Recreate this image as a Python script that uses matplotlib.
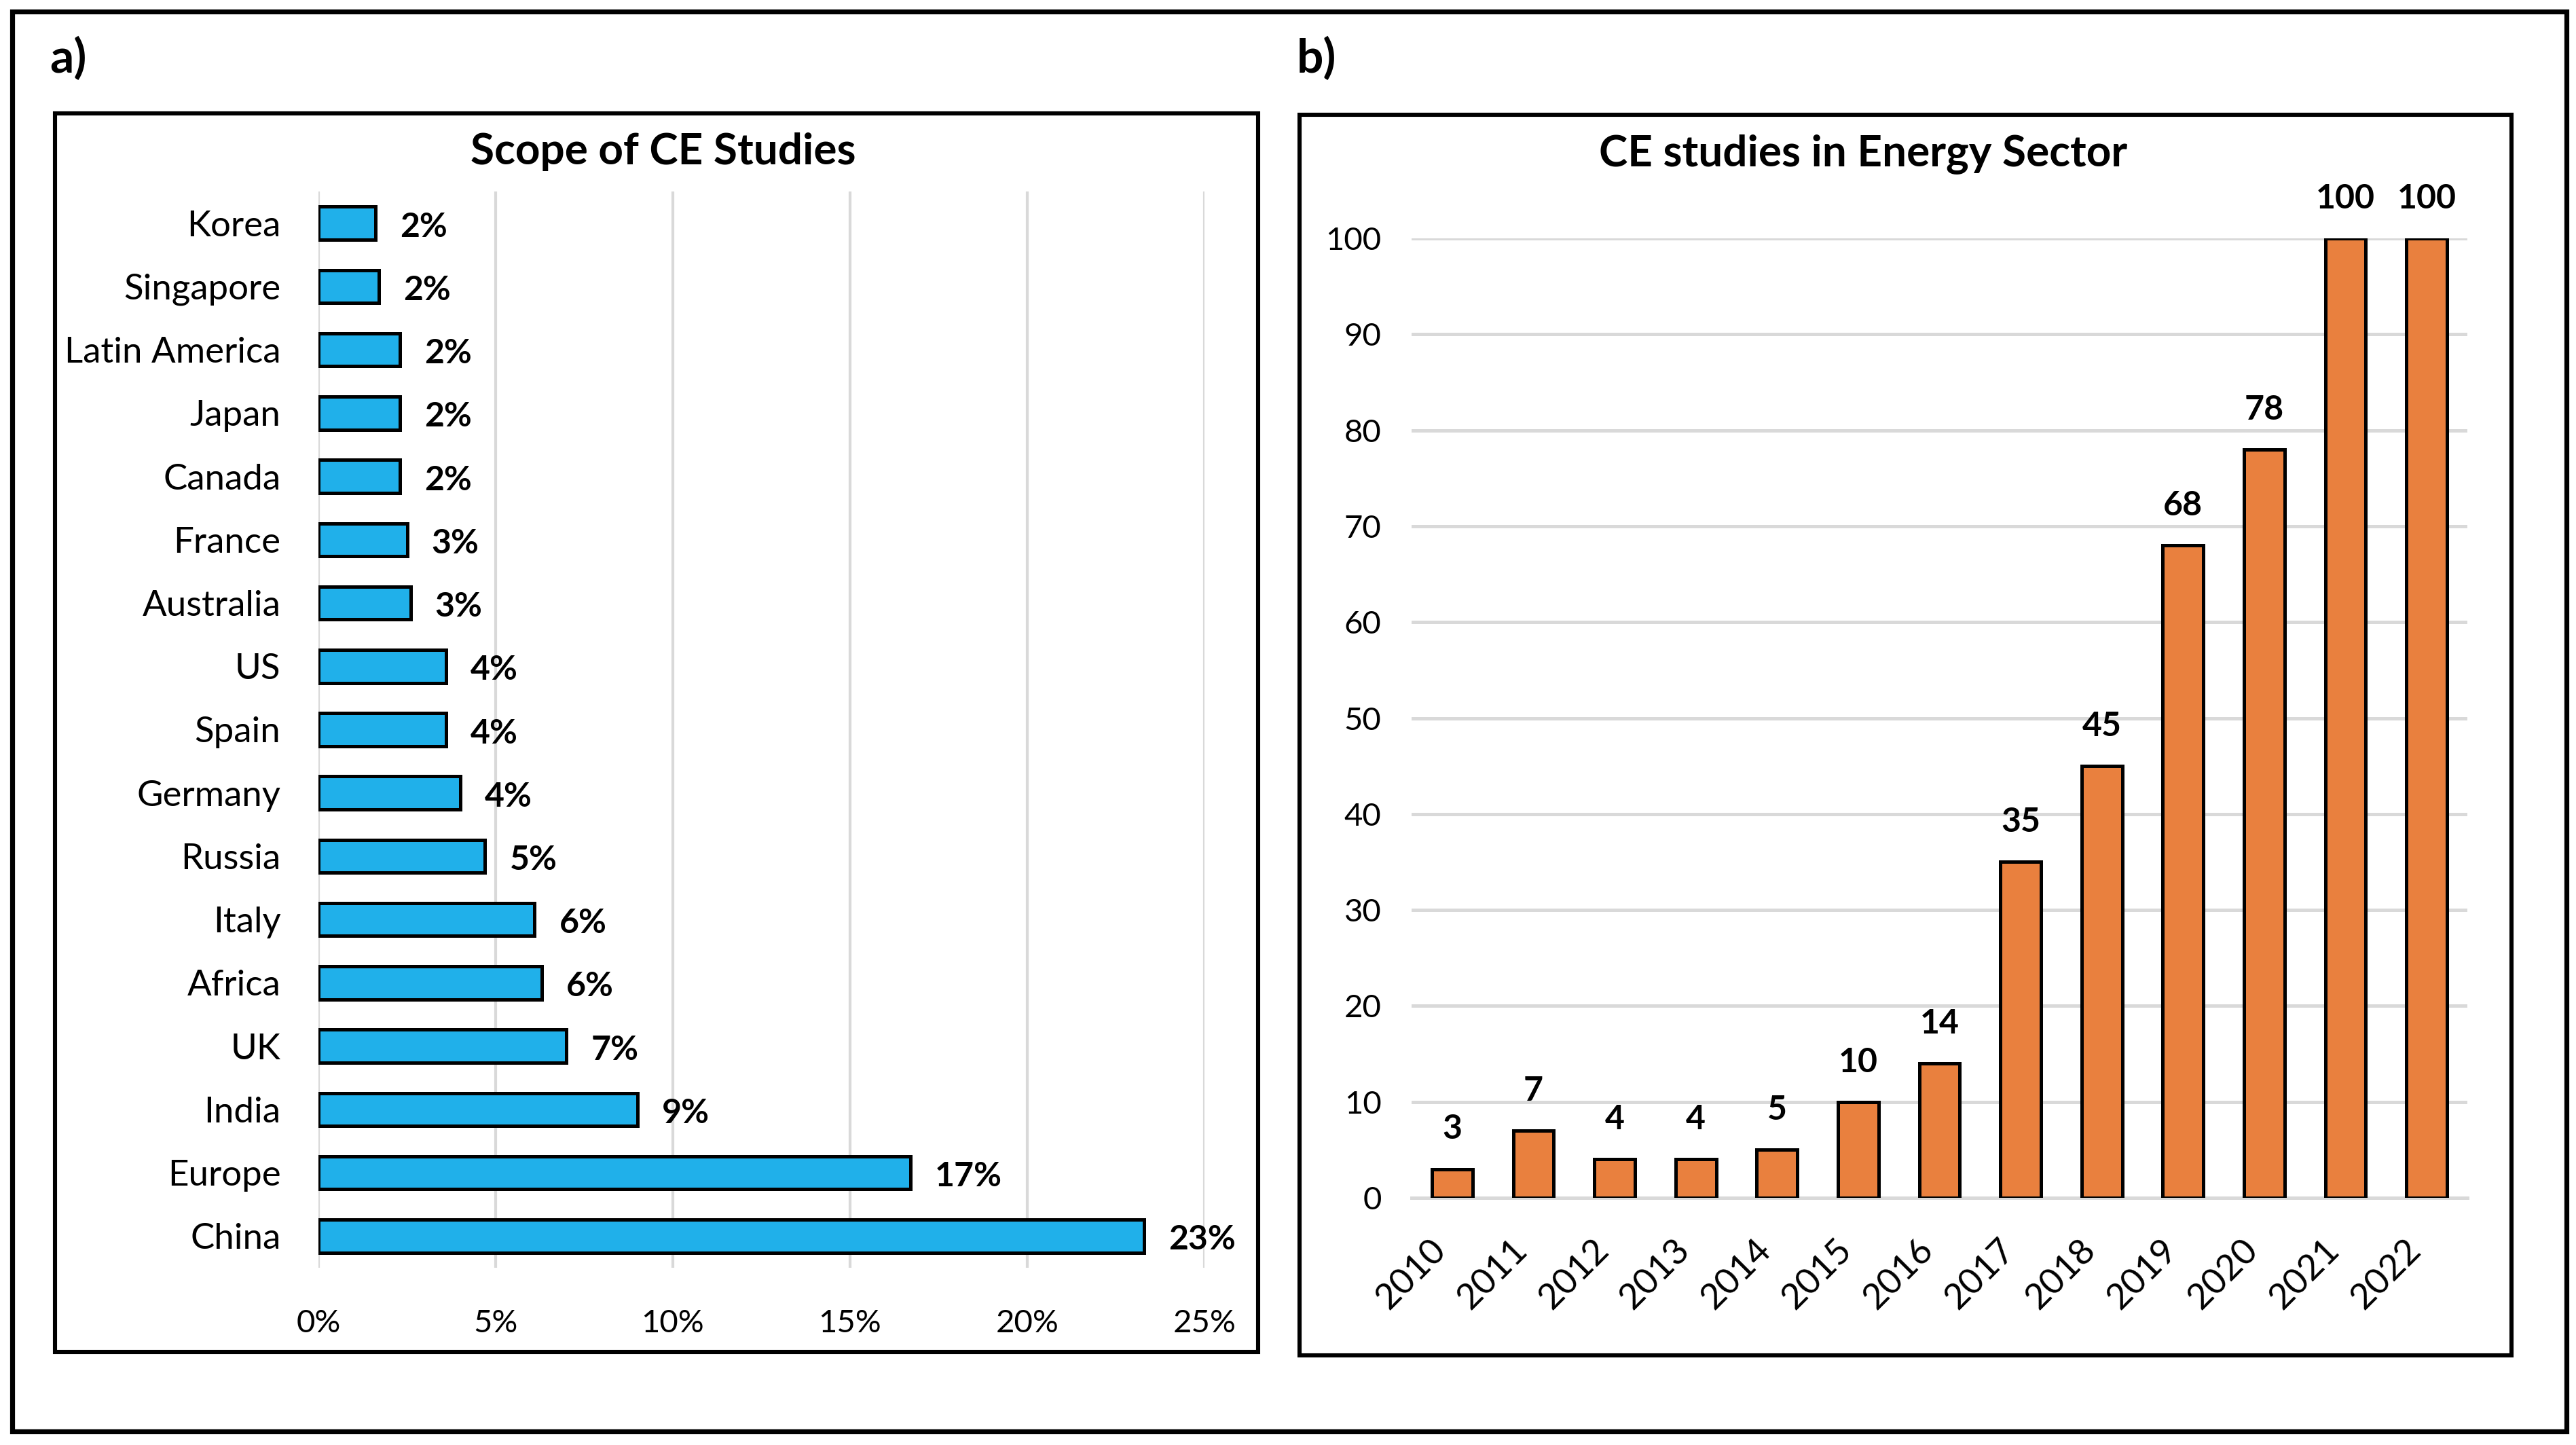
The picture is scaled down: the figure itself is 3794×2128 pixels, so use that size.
import matplotlib
matplotlib.use("Agg")
import matplotlib.pyplot as plt
import matplotlib.transforms as mtransforms
from matplotlib.patches import Rectangle

plt.rcParams['font.family'] = ['Lato', 'DejaVu Sans']

# panel a data
countries = ["Korea", "Singapore", "Latin America", "Japan", "Canada", "France",
             "Australia", "US", "Spain", "Germany", "Russia", "Italy", "Africa",
             "UK", "India", "Europe", "China"]
shares = [1.6, 1.7, 2.3, 2.3, 2.3, 2.5, 2.6, 3.6, 3.6, 4.0, 4.7, 6.1, 6.3, 7.0, 9.0, 16.7, 23.3]
share_labels = ["2%", "2%", "2%", "2%", "2%", "3%", "3%", "4%", "4%", "4%", "5%",
                "6%", "6%", "7%", "9%", "17%", "23%"]
pct_ticks = [0, 5, 10, 15, 20, 25]

# panel b data
years = ["2010", "2011", "2012", "2013", "2014", "2015", "2016", "2017", "2018",
         "2019", "2020", "2021", "2022"]
studies = [3, 7, 4, 4, 5, 10, 14, 35, 45, 68, 78, 100, 100]

W, H = 3794, 2128
DPI = 200
fig = plt.figure(figsize=(W / DPI, H / DPI), dpi=DPI)


def box(x0, y0, x1, y1):
    # pixel box (top-left origin) -> figure fraction rect
    return [x0 / W, 1 - y1 / H, (x1 - x0) / W, (y1 - y0) / H]


def frame(x0, y0, x1, y1, lw):
    r = box(x0, y0, x1, y1)
    fig.patches.append(Rectangle((r[0], r[1]), r[2], r[3], transform=fig.transFigure,
                                 fill=False, edgecolor="black", linewidth=lw))


frame(18, 17, 3780, 2108, 2.6)
frame(81, 167, 1853, 1991, 2.2)
fig.text(73 / W, 1 - 87 / H, "a)", fontsize=25, fontweight="bold", ha="left", va="center")
frame(1914, 169, 3699, 1996, 2.2)
fig.text(1910 / W, 1 - 87 / H, "b)", fontsize=25, fontweight="bold", ha="left", va="center")

blue = "#20B0EA"
orange = "#E9803E"
grid = "#D9D9D9"

# ---- panel a ----
ax1 = fig.add_axes(box(469, 282, 1774, 1867))
ypos = list(range(len(countries)))
ax1.barh(ypos, shares, height=0.52, color=blue, edgecolor="black", linewidth=1.8, zorder=3)
ax1.set_yticks(ypos)
ax1.set_yticklabels(countries, fontsize=19)
ax1.set_ylim(len(countries) - 0.5, -0.5)
ax1.set_xlim(0, 25)
ax1.set_xticks(pct_ticks)
ax1.set_xticklabels([f"{t}%" for t in pct_ticks], fontsize=17)
ax1.grid(axis="x", color=grid, linewidth=1.5, zorder=0)
for s in ax1.spines.values():
    s.set_visible(False)
ax1.tick_params(length=0)
ax1.tick_params(axis="y", pad=20)
ax1.tick_params(axis="x", pad=22)
for y, v, lab in zip(ypos, shares, share_labels):
    ax1.annotate(lab, (v, y), xytext=(13, -2), textcoords="offset points",
                 ha="left", va="center", fontsize=18, fontweight="bold", clip_on=False)
fig.text(977 / W, 1 - 223 / H, "Scope of CE Studies", fontsize=23, fontweight="bold",
         ha="center", va="center")

# ---- panel b ----
ax2 = fig.add_axes(box(2079, 351, 3634, 1764))
xpos = list(range(len(years)))
ax2.bar(xpos, studies, width=0.5, color=orange, edgecolor="black", linewidth=1.8, zorder=3)
ax2.set_xlim(-0.5, len(years) - 0.5)
ax2.set_ylim(0, 100)
ax2.set_yticks(range(0, 101, 10))
ax2.tick_params(axis="y", labelsize=17)
ax2.set_xticks(xpos)
ax2.set_xticklabels(years, rotation=45, ha="right", va="top", fontsize=19)
offset = mtransforms.ScaledTranslation(13 / 72, 0, fig.dpi_scale_trans)
for lbl in ax2.get_xticklabels():
    lbl.set_transform(lbl.get_transform() + offset)
ax2.grid(axis="y", color=grid, linewidth=1.8, zorder=0)
ax2.axhline(0, color=grid, linewidth=1.8, zorder=1, clip_on=False)
for s in ax2.spines.values():
    s.set_visible(False)
ax2.tick_params(length=0)
ax2.tick_params(axis="y", pad=16)
ax2.tick_params(axis="x", pad=19)
for x, v in zip(xpos, studies):
    ax2.annotate(str(v), (x, v), xytext=(0, 13), textcoords="offset points",
                 ha="center", va="bottom", fontsize=18, fontweight="bold", clip_on=False)
fig.text(2744 / W, 1 - 227 / H, "CE studies in Energy Sector", fontsize=23, fontweight="bold",
         ha="center", va="center")

fig.savefig("out.png", dpi=DPI, facecolor="white")
